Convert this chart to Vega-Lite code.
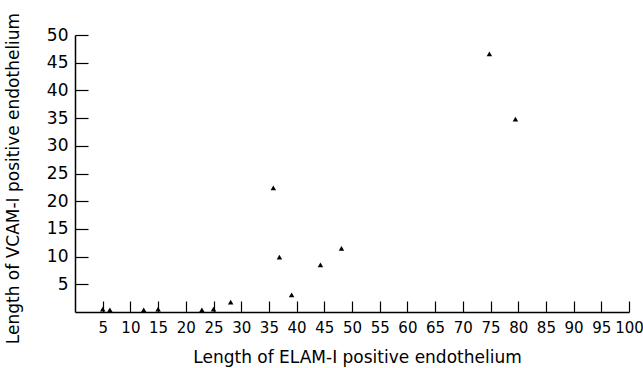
{
  "$schema": "https://vega.github.io/schema/vega-lite/v6.json",
  "width": 554,
  "height": 277,
  "autosize": {"type": "none"},
  "padding": {"left": 75, "top": 35, "right": 14, "bottom": 56},
  "background": "white",
  "config": {"view": {"stroke": null}, "font": "DejaVu Sans"},
  "data": {"values": [
    {"elam": 5.0, "vcam": 0.5},
    {"elam": 6.3, "vcam": 0.4},
    {"elam": 12.4, "vcam": 0.4},
    {"elam": 15.0, "vcam": 0.5},
    {"elam": 22.9, "vcam": 0.4},
    {"elam": 25.0, "vcam": 0.5},
    {"elam": 28.1, "vcam": 1.8},
    {"elam": 35.8, "vcam": 22.4},
    {"elam": 36.9, "vcam": 9.9},
    {"elam": 39.1, "vcam": 3.1},
    {"elam": 44.3, "vcam": 8.5},
    {"elam": 48.1, "vcam": 11.5},
    {"elam": 74.8, "vcam": 46.6},
    {"elam": 79.5, "vcam": 34.8}
  ]},
  "resolve": {"axis": {"x": "independent", "y": "independent"}},
  "layer": [
    {
      "mark": {"type": "point", "shape": "triangle-up", "filled": true, "color": "black", "size": 30, "opacity": 1},
      "encoding": {
        "x": {
          "field": "elam", "type": "quantitative",
          "scale": {"domain": [0, 100], "nice": false},
          "axis": {
            "orient": "bottom",
            "title": "Length of ELAM-I positive endothelium",
            "values": [0,5,10,15,20,25,30,35,40,45,50,55,60,65,70,75,80,85,90,95,100],
            "labelExpr": "datum.value == 0 ? '' : datum.label",
            "grid": false, "domainColor": "black", "domainWidth": 1.5, "ticks": false, "tickSize": 0,
            "labelPadding": 8, "labelFontSize": 15, "labelColor": "black",
            "titleFontSize": 17, "titleFontWeight": "normal", "titleColor": "black",
            "titleX": 282, "titleY": 37,
            "labelFlush": false, "labelOverlap": false
          }
        },
        "y": {
          "field": "vcam", "type": "quantitative",
          "scale": {"domain": [0, 50], "nice": false},
          "axis": {
            "orient": "left",
            "title": "Length of VCAM-I positive endothelium",
            "values": [0,5,10,15,20,25,30,35,40,45,50],
            "labelExpr": "datum.value == 0 ? '' : datum.label",
            "grid": false, "domainColor": "black", "domainWidth": 1.5, "ticks": false, "tickSize": 0,
            "labelPadding": 7, "labelFontSize": 17, "labelColor": "black",
            "titleFontSize": 17, "titleFontWeight": "normal", "titleColor": "black",
            "titleX": -53, "titleY": 143,
            "labelFlush": false, "labelOverlap": false
          }
        }
      }
    },
    {
      "mark": {"type": "point", "opacity": 0},
      "encoding": {
        "x": {
          "field": "elam", "type": "quantitative",
          "axis": {
            "orient": "bottom", "offset": -11, "tickSize": 11, "tickColor": "black", "tickWidth": 1.2,
            "values": [5,10,15,20,25,30,35,40,45,50,55,60,65,70,75,80,85,90,95,100],
            "domain": false, "labels": false, "grid": false, "title": null
          }
        },
        "y": {
          "field": "vcam", "type": "quantitative",
          "axis": {
            "orient": "left", "offset": -13, "tickSize": 13, "tickColor": "black", "tickWidth": 1.2,
            "values": [5,10,15,20,25,30,35,40,45,50],
            "domain": false, "labels": false, "grid": false, "title": null
          }
        }
      }
    }
  ]
}
